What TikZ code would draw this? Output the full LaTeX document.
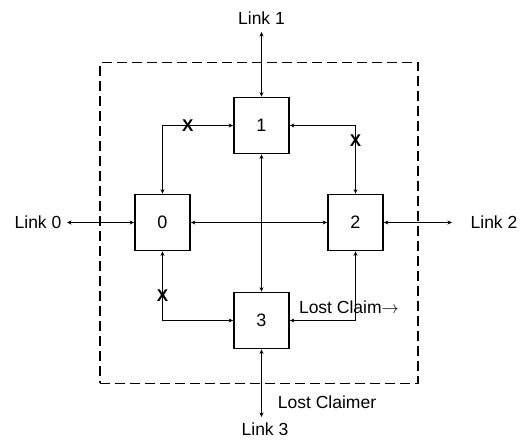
\documentclass[tikz,border=0pt]{standalone}
\usepackage{fontspec}
\setmainfont{Liberation Sans}
\usetikzlibrary{positioning, arrows.meta, fit, backgrounds}
\tikzset{
  box/.style={
    draw,
    align=center,
    font=\fontsize{18}{20}\selectfont,
    minimum width=55pt,
    minimum height=56pt,
    inner sep=0pt,
    line width=1.8pt,
  },
  arr/.style={{Stealth[length=4.5pt, width=4pt]}-{Stealth[length=4.5pt, width=4pt]}, line width=1.5pt},
  linkarr/.style={{Stealth[length=4.5pt, width=4pt]}-{Stealth[length=4.5pt, width=4pt]}, line width=1.1pt},
  lbl/.style={font=\fontsize{17.5}{20}\selectfont, inner sep=0pt},
  xmark/.style={font=\fontsize{17}{19}\selectfont\bfseries, inner sep=0pt},
}

\begin{document}
\begin{tikzpicture}[x=1pt, y=-1pt]
\useasboundingbox (0,0) rectangle (528,440);

% Switch ports
\node[box] (n1) at (261.5,125.5) {1};
\node[box] (n0) at (162.5,222.5) {0};
\node[box] (n2) at (355.5,222.5) {2};
\node[box] (n3) at (261.5,320.5) {3};

% Dashed frame around the switch
\begin{scope}[on background layer]
  \node[dashed, dash pattern=on 10pt off 5pt, draw, line width=1.3pt,
    inner sep=34pt, fit=(n0)(n1)(n2)(n3)] (frame) {};
\end{scope}

% Link ends
\coordinate (l1) at (261.5,32);
\coordinate (l0) at (67,222.5);
\coordinate (l2) at (452,222.5);
\coordinate (l3) at (261.5,417);

\node[lbl] (t1) at (261.5,18) {Link 1};
\node[lbl] (t0) at (38,222.5) {Link 0};
\node[lbl] (t2) at (494,222.5) {Link 2};
\node[lbl] (t3) at (265,429) {Link 3};
\node[lbl] (lcr) at (327,402) {Lost Claimer};
\node[lbl] (lc) at (349,307) {Lost Claim$\rightarrow$};

% --- Links -------------------------------------------------------------
\foreach \a/\b in {n1.north/l1, n0.west/l0, n2.east/l2, n3.south/l3}
  {\draw[linkarr] (\a) -- (\b);}

% --- Internal paths ----------------------------------------------------
\draw[arr] (n0.north) |- node[xmark, pos=0.68] {X} (n1.west);
\draw[arr] (n1.east) -| node[xmark, pos=0.61] {X} (n2.north);
\draw[arr] (n0.south) |- node[xmark, pos=0.32] {X} (n3.west);
\draw[arr] (n3.east) -| (n2.south);
\draw[arr] (n0.east) -- (n2.west);
\draw[arr] (n1.south) -- (n3.north);

\end{tikzpicture}
\end{document}
